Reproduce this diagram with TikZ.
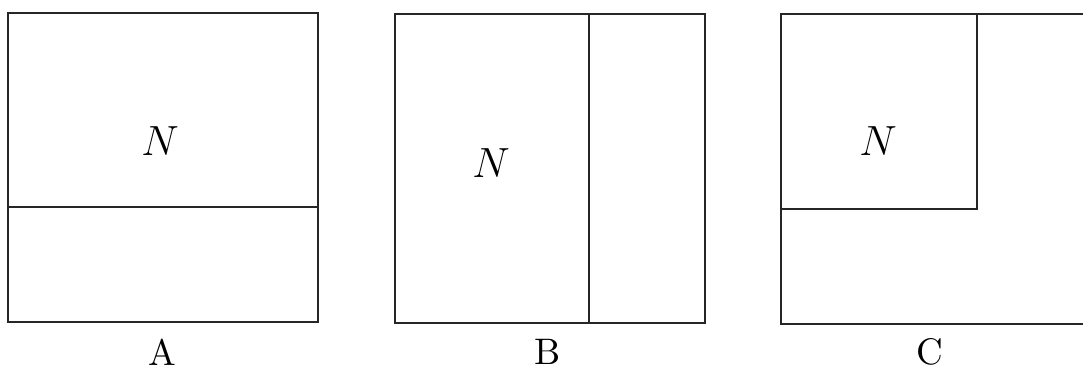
\documentclass[tikz,border=0pt]{standalone}
\usepackage{tikz}
\usetikzlibrary{positioning}

\begin{document}
\begin{tikzpicture}[
  x=0.01cm,y=-0.01cm,
  line cap=butt,line join=miter,
  panel/.style={draw=black!85,line width=.6pt},
  split/.style={draw=black!85,line width=.6pt},
  tag/.style={font=\fontsize{10.5}{12}\selectfont,inner sep=0pt},
  blockname/.style={font=\fontsize{13}{15}\selectfont,inner sep=0pt}
]
\useasboundingbox (0,0) rectangle (1083,370);

% panel A: block on top of a strip
\draw[panel] (8,13) rectangle (318,322);
\draw[split] (8,207) -- (318,207);
\node[blockname] (nA) at (160,141) {$N$};
\node[tag] (tA) at (162,352) {A};

% panel B: block beside a strip
\draw[panel] (395,14) rectangle (705,323);
\draw[split] (589,14) -- (589,323);
\node[blockname] (nB) at (491,163) {$N$};
\node[tag] (tB) at (548,352) {B};

% panel C: corner block, right side runs off the page
\draw[panel] (1090,14) -- (781,14) -- (781,324) -- (1090,324);
\draw[split] (781,209) -- (977,209) -- (977,14);
\node[blockname] (nC) at (878,141) {$N$};
\node[tag] (tC) at (930,352) {C};
\end{tikzpicture}
\end{document}
